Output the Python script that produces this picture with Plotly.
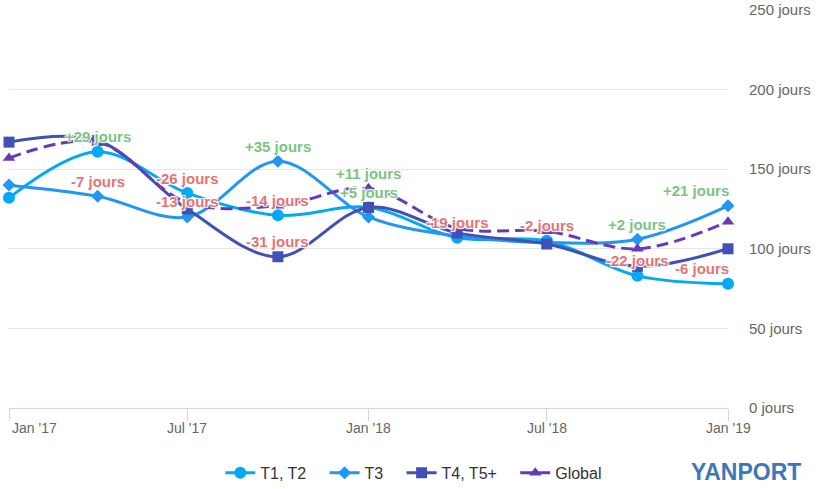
import plotly.graph_objects as go

# ---- data ----
dates = ["2017-01-01", "2017-04-01", "2017-07-01", "2017-10-01", "2018-01-01",
         "2018-04-01", "2018-07-01", "2018-10-01", "2019-01-01"]
t1_t2 = [132, 161, 135, 121, 126, 107, 105, 83, 78]
t3 = [140, 133, 120, 155, 120, 108, 104, 106, 127]
t4_t5 = [167, 168, 125, 95, 126, 110, 103, 89, 100]
global_ = [157, 167, 129, 127, 138, 113, 111, 100, 117]

series_names = ["T1, T2", "T3", "T4, T5+", "Global"]
series_values = [t1_t2, t3, t4_t5, global_]

# visible data labels: (series index, point index, text)
label_series = [0, 1, 0, 1, 1, 0, 2, 3, 0, 0, 0, 1, 0, 1, 0]
label_points = [1, 1, 2, 2, 3, 3, 3, 4, 4, 5, 6, 7, 7, 8, 8]
label_texts = ["+29 jours", "-7 jours", "-26 jours", "-13 jours", "+35 jours", "-14 jours",
               "-31 jours", "+11 jours", "+5 jours", "-19 jours", "-2 jours", "+2 jours",
               "-22 jours", "+21 jours", "-6 jours"]

y_tick_vals = [0, 50, 100, 150, 200, 250]
y_tick_text = [f"{v} jours" for v in y_tick_vals]
x_tick_vals = ["2017-01-01", "2017-07-01", "2018-01-01", "2018-07-01", "2019-01-01"]
x_tick_text = ["Jan '17", "Jul '17", "Jan '18", "Jul '18", "Jan '19"]

# ---- styles ----
colors = ["#03A9F4", "#2196F3", "#3F51B5", "#673AB7"]
symbols = ["circle", "diamond", "square", "triangle-up"]
msizes = [12, 10, 11, 11]
dashes = ["solid", "solid", "solid", "12px,6px"]
FONT = "Liberation Sans, Arial, sans-serif"
WHITE_OUTLINE = ("1px 1px 1px white, -1px -1px 1px white, "
                 "1px -1px 1px white, -1px 1px 1px white")
NBSP_PAD = "\u00a0\u00a0\u00a0"

fig = go.Figure()
for i, (name, vals, c, s, ms, d) in enumerate(
        zip(series_names, series_values, colors, symbols, msizes, dashes)):
    legend_name = name + (NBSP_PAD if i < len(series_names) - 1 else "")
    fig.add_trace(go.Scatter(
        x=dates, y=vals, name=legend_name, mode="lines+markers",
        line=dict(color=c, width=3, shape="spline", dash=d),
        marker=dict(color=c, symbol=s, size=ms, line=dict(width=0)),
        cliponaxis=False,
    ))

annotations = []
n_pts = len(dates)
for si, pi, txt in zip(label_series, label_points, label_texts):
    col = "#7cc47f" if txt.startswith("+") else "#e57373"
    last = pi == n_pts - 1
    annotations.append(dict(
        x=dates[pi], y=series_values[si][pi], xref="x", yref="y",
        text=txt, showarrow=False, yshift=15, yanchor="middle",
        xanchor="right" if last else "center", xshift=3 if last else 0,
        font=dict(family=FONT, size=15, color=col, weight="bold", shadow=WHITE_OUTLINE),
    ))

for i, (tv, tt) in enumerate(zip(x_tick_vals, x_tick_text)):
    annotations.append(dict(
        x=tv, y=0, xref="x", yref="paper", text=tt, showarrow=False,
        yshift=-20, yanchor="middle",
        xanchor="left" if i == 0 else "center", xshift=1 if i == 0 else 0,
        font=dict(family=FONT, size=14, color="#666666"),
    ))

# logo
annotations.append(dict(
    x=1.025, y=-0.162, xref="paper", yref="paper", text="YANPORT", showarrow=False,
    xanchor="center", yanchor="middle",
    font=dict(family=FONT, size=23, color="#3d78b6", weight="bold"),
))

fig.update_layout(
    width=828, height=489,
    margin=dict(l=9, r=100, t=10, b=81, autoexpand=False),
    paper_bgcolor="white", plot_bgcolor="white",
    font=dict(family=FONT, color="#333333"),
    showlegend=True,
    legend=dict(orientation="h", x=0.563, xanchor="center", y=-0.163, yanchor="middle",
                font=dict(family=FONT, size=16, color="#333333"), itemwidth=30),
    annotations=annotations,
    hovermode=False,
)
fig.update_xaxes(
    type="date", range=["2017-01-01", "2019-01-01"],
    showgrid=False, zeroline=False,
    showline=True, linecolor="#ccd6eb", linewidth=1,
    tickvals=x_tick_vals, showticklabels=False,
    ticks="outside", ticklen=12, tickcolor="#ccd6eb", tickwidth=1,
    automargin=False,
)
fig.update_yaxes(
    side="right", range=[0, 250],
    tickvals=y_tick_vals, ticktext=y_tick_text,
    showgrid=True, gridcolor="#e6e6e6", gridwidth=1,
    zeroline=False, ticks="", ticklabelstandoff=20,
    tickfont=dict(family=FONT, size=15, color="#666666"),
    automargin=False,
)

fig.write_html(
    "out.html",
    config={"displayModeBar": False},
    post_script="document.body.style.margin='0';document.body.style.overflow='hidden';",
)
